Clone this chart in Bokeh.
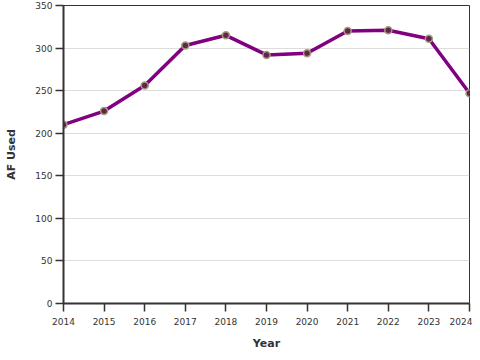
from bokeh.plotting import figure
from bokeh.models import Range1d, FixedTicker
from bokeh.embed import file_html
from bokeh.resources import INLINE

years = [2014, 2015, 2016, 2017, 2018, 2019, 2020, 2021, 2022, 2023, 2024]
af_used = [210, 226, 256, 303, 315, 292, 294, 320, 321, 311, 247]
y_ticks = [0, 50, 100, 150, 200, 250, 300, 350]

p = figure(width=472, height=352, output_backend="svg", toolbar_location=None,
           x_range=Range1d(2014, 2024), y_range=Range1d(0, 350),
           min_border_left=63, min_border_right=3, min_border_top=5, min_border_bottom=48)

p.line(years, af_used, line_color="#800080", line_width=3.5)
p.scatter(years, af_used, size=7, fill_color="#5e2750", line_color="#a89a7a", line_width=1.5)

p.xaxis.ticker = FixedTicker(ticks=years)
p.yaxis.ticker = FixedTicker(ticks=y_ticks)
p.xaxis.axis_label = "Year"
p.yaxis.axis_label = "AF Used"

for ax in (p.xaxis, p.yaxis):
    ax.axis_line_color = "#333333"
    ax.axis_line_width = 2
    ax.major_tick_line_color = "#333333"
    ax.major_tick_line_width = 1.5
    ax.major_tick_out = 8
    ax.major_tick_in = 0
    ax.minor_tick_out = 0
    ax.minor_tick_in = 0
    ax.major_label_text_font = "DejaVu Sans"
    ax.major_label_text_font_size = "9px"
    ax.major_label_text_color = "#333333"
    ax.axis_label_text_font = "DejaVu Sans"
    ax.axis_label_text_font_size = "11px"
    ax.axis_label_text_font_style = "bold"
    ax.axis_label_text_color = "#333333"

p.xaxis.major_label_standoff = 6
p.yaxis.major_label_standoff = 3
p.xaxis.axis_label_standoff = 9
p.yaxis.axis_label_standoff = 14

p.xgrid.grid_line_color = None
p.ygrid.grid_line_color = "#dddddd"
p.ygrid.grid_line_width = 1

p.outline_line_color = "#333333"
p.outline_line_width = 1
p.background_fill_color = "white"
p.border_fill_color = "white"

open("out.html", "w").write(file_html(p, INLINE))
